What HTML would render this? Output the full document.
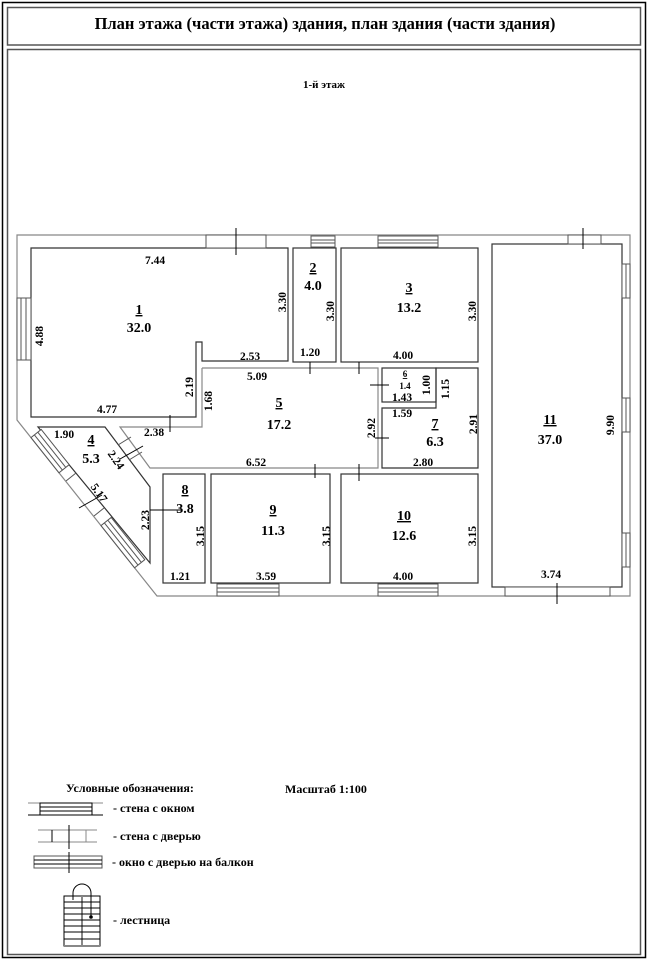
<!DOCTYPE html>
<html><head><meta charset="utf-8"><style>
html,body{margin:0;padding:0;background:#fff}
svg{display:block}
text{font-family:"Liberation Serif","DejaVu Serif",serif;fill:#000}
.d{font-size:11.5px;font-weight:bold}
.n{font-size:14px;font-weight:bold}
</style></head><body>
<svg width="648" height="960" viewBox="0 0 648 960" xmlns="http://www.w3.org/2000/svg">
<rect x="2.5" y="2.5" width="643" height="955" fill="none" stroke="#000" stroke-width="1.5"/>
<rect x="7.5" y="7.5" width="633" height="37.5" fill="none" stroke="#555" stroke-width="1.5"/>
<rect x="7.5" y="49.5" width="633" height="905" fill="none" stroke="#555" stroke-width="1.5"/>
<text x="325" y="29" text-anchor="middle" font-size="16.5" font-weight="bold">План этажа (части этажа) здания, план здания (части здания)</text>
<text x="324" y="88" text-anchor="middle" font-size="11" font-weight="bold">1-й этаж</text>

<g fill="none" stroke="#888" stroke-width="1.2">
<polygon points="17,235 630,235 630,596 157,596 17,420"/>
</g>
<g fill="none" stroke="#333" stroke-width="1.2">
<polygon points="31,248 288,248 288,361 202,361 202,342 196,342 196,417 31,417"/>
<rect x="293" y="248" width="43" height="114"/>
<rect x="341" y="248" width="137" height="114"/>
<polyline points="202,368 378,368 378,468 150,468 120,427 150,427 196,427 202,427 202,368" stroke="#888"/>
<polygon points="38,427 105,427 150,487 150,563"/>
<rect x="163" y="474" width="42" height="109"/>
<rect x="211" y="474" width="119" height="109"/>
<rect x="341" y="474" width="137" height="109"/>
<rect x="382" y="368" width="54" height="34"/>
<polygon points="382,408 436,408 436,368 478,368 478,468 382,468"/>
<rect x="492" y="244" width="130" height="343"/>
</g>
<g fill="#fff" stroke="#555" stroke-width="1">
<rect x="17" y="298" width="14" height="62"/><line x1="21" y1="298" x2="21" y2="360"/><line x1="26" y1="298" x2="26" y2="360"/>
<rect x="311" y="236" width="24" height="11"/><line x1="311" y1="240" x2="335" y2="240"/><line x1="311" y1="243" x2="335" y2="243"/>
<rect x="378" y="236" width="60" height="11"/><line x1="378" y1="240" x2="438" y2="240"/><line x1="378" y1="243" x2="438" y2="243"/>
<rect x="217" y="584" width="62" height="12"/><line x1="217" y1="588" x2="279" y2="588"/><line x1="217" y1="592" x2="279" y2="592"/>
<rect x="378" y="584" width="60" height="12"/><line x1="378" y1="588" x2="438" y2="588"/><line x1="378" y1="592" x2="438" y2="592"/>
<rect x="622" y="264" width="8" height="34"/><rect x="622" y="398" width="8" height="34"/><rect x="622" y="533" width="8" height="34"/>
<line x1="626" y1="264" x2="626" y2="298"/><line x1="626" y1="398" x2="626" y2="432"/><line x1="626" y1="533" x2="626" y2="567"/>
<rect x="206" y="235" width="60" height="13"/><rect x="568" y="235" width="33" height="9"/>
<rect x="505" y="587" width="105" height="9"/>
</g>
<!-- diagonal wall windows -->
<g stroke="#555" stroke-width="1" fill="#fff">
<polygon points="31,437.6 59,472.8 69.2,464.7 41.2,429.5"/>
<line x1="34.4" y1="434.9" x2="62.4" y2="470.1"/><line x1="37.8" y1="432.2" x2="65.8" y2="467.4"/>
<polygon points="101,525.6 134.6,567.8 144.8,559.7 111.2,517.5"/>
<line x1="104.4" y1="522.9" x2="138" y2="565.1"/><line x1="107.8" y1="520.2" x2="141.4" y2="562.4"/>
</g>
<g stroke="#555" stroke-width="1" fill="none">
<line x1="66" y1="481" x2="76" y2="473"/><line x1="94" y1="516" x2="104" y2="508"/>
<line x1="118" y1="445" x2="131" y2="437"/><line x1="129" y1="460" x2="142" y2="452"/>
</g>
<g stroke="#000" stroke-width="1">
<line x1="236" y1="228" x2="236" y2="255"/><line x1="310" y1="362" x2="310" y2="374"/>
<line x1="359" y1="362" x2="359" y2="374"/><line x1="170" y1="415" x2="170" y2="432"/>
<line x1="315" y1="464" x2="315" y2="478"/><line x1="359" y1="464" x2="359" y2="481"/>
<line x1="583" y1="228" x2="583" y2="249"/><line x1="557" y1="583" x2="557" y2="604"/>
<line x1="370" y1="385" x2="389" y2="385"/><line x1="375" y1="438" x2="389" y2="438"/>
<line x1="150" y1="510" x2="182" y2="510"/><line x1="120" y1="459" x2="143" y2="446"/>
<line x1="79" y1="508" x2="102" y2="495"/>
</g>
<g class="d">
<text x="155" y="264" text-anchor="middle" class="d">7.44</text>
<text x="240" y="360" class="d">2.53</text>
<text x="300" y="356" class="d">1.20</text>
<text x="247" y="380" class="d">5.09</text>
<text x="97" y="413" class="d">4.77</text>
<text x="144" y="436" class="d">2.38</text>
<text x="54" y="438" class="d">1.90</text>
<text x="246" y="466" class="d">6.52</text>
<text x="393" y="359" class="d">4.00</text>
<text x="392" y="401" class="d" font-size="10">1.43</text>
<text x="392" y="417" class="d" font-size="10">1.59</text>
<text x="413" y="466" class="d">2.80</text>
<text x="170" y="580" class="d">1.21</text>
<text x="256" y="580" class="d">3.59</text>
<text x="393" y="580" class="d">4.00</text>
<text x="541" y="578" class="d">3.74</text>
</g>
<g class="d">
<text transform="translate(43,336) rotate(-90)" text-anchor="middle" class="d">4.88</text>
<text transform="translate(286,302) rotate(-90)" text-anchor="middle" class="d">3.30</text>
<text transform="translate(334,311) rotate(-90)" text-anchor="middle" class="d">3.30</text>
<text transform="translate(476,311) rotate(-90)" text-anchor="middle" class="d">3.30</text>
<text transform="translate(193,387) rotate(-90)" text-anchor="middle" class="d">2.19</text>
<text transform="translate(212,401) rotate(-90)" text-anchor="middle" class="d">1.68</text>
<text transform="translate(375,428) rotate(-90)" text-anchor="middle" class="d">2.92</text>
<text transform="translate(430,385) rotate(-90)" text-anchor="middle" class="d" font-size="10">1.00</text>
<text transform="translate(449,389) rotate(-90)" text-anchor="middle" class="d">1.15</text>
<text transform="translate(477,424) rotate(-90)" text-anchor="middle" class="d">2.91</text>
<text transform="translate(614,425) rotate(-90)" text-anchor="middle" class="d">9.90</text>
<text transform="translate(149,520) rotate(-90)" text-anchor="middle" class="d">2.23</text>
<text transform="translate(204,536) rotate(-90)" text-anchor="middle" class="d">3.15</text>
<text transform="translate(330,536) rotate(-90)" text-anchor="middle" class="d">3.15</text>
<text transform="translate(476,536) rotate(-90)" text-anchor="middle" class="d">3.15</text>
<text transform="translate(113,462) rotate(55)" text-anchor="middle" class="d">2.24</text>
<text transform="translate(96,495) rotate(55)" text-anchor="middle" class="d">5.17</text>
</g>
<g class="n">
<text x="139" y="314" text-anchor="middle" class="n" text-decoration="underline">1</text><text x="139" y="332" text-anchor="middle" class="n">32.0</text>
<text x="313" y="272" text-anchor="middle" class="n" text-decoration="underline">2</text><text x="313" y="290" text-anchor="middle" class="n">4.0</text>
<text x="409" y="292" text-anchor="middle" class="n" text-decoration="underline">3</text><text x="409" y="312" text-anchor="middle" class="n">13.2</text>
<text x="91" y="444" text-anchor="middle" class="n" text-decoration="underline">4</text><text x="91" y="463" text-anchor="middle" class="n">5.3</text>
<text x="279" y="407" text-anchor="middle" class="n" text-decoration="underline">5</text><text x="279" y="429" text-anchor="middle" class="n">17.2</text>
<text x="405" y="377" text-anchor="middle" font-size="9" font-weight="bold" text-decoration="underline">6</text><text x="405" y="389" text-anchor="middle" font-size="9" font-weight="bold">1.4</text>
<text x="435" y="428" text-anchor="middle" class="n" text-decoration="underline">7</text><text x="435" y="446" text-anchor="middle" class="n">6.3</text>
<text x="185" y="494" text-anchor="middle" class="n" text-decoration="underline">8</text><text x="185" y="513" text-anchor="middle" class="n">3.8</text>
<text x="273" y="514" text-anchor="middle" class="n" text-decoration="underline">9</text><text x="273" y="535" text-anchor="middle" class="n">11.3</text>
<text x="404" y="520" text-anchor="middle" class="n" text-decoration="underline">10</text><text x="404" y="540" text-anchor="middle" class="n">12.6</text>
<text x="550" y="424" text-anchor="middle" class="n" text-decoration="underline">11</text><text x="550" y="444" text-anchor="middle" class="n">37.0</text>
</g>

<text x="66" y="792" font-size="12" font-weight="bold">Условные обозначения:</text>
<text x="285" y="793" font-size="12" font-weight="bold">Масштаб 1:100</text>
<g stroke="#000" stroke-width="1" fill="none">
<line x1="28" y1="803" x2="103" y2="803" stroke="#888"/><line x1="28" y1="815" x2="103" y2="815"/>
<rect x="40" y="803" width="52" height="12"/><line x1="40" y1="807" x2="92" y2="807"/><line x1="40" y1="811" x2="92" y2="811"/>
<line x1="38" y1="830" x2="97" y2="830" stroke="#888"/><line x1="38" y1="842" x2="97" y2="842" stroke="#888"/>
<line x1="52" y1="830" x2="52" y2="842"/><line x1="86" y1="830" x2="86" y2="842" stroke="#888"/><line x1="69" y1="825" x2="69" y2="849"/>
<rect x="34" y="856" width="68" height="12" stroke="#555"/><line x1="34" y1="860" x2="102" y2="860"/><line x1="34" y1="864" x2="102" y2="864"/>
<line x1="69" y1="852" x2="69" y2="873"/>
<rect x="64" y="896" width="36" height="50"/>
<line x1="82" y1="896" x2="82" y2="946" stroke="#888" stroke-width="2"/>
<line x1="64" y1="902" x2="100" y2="902"/><line x1="64" y1="908" x2="100" y2="908"/><line x1="64" y1="914" x2="100" y2="914"/><line x1="64" y1="920" x2="100" y2="920"/><line x1="64" y1="926" x2="100" y2="926"/><line x1="64" y1="932" x2="100" y2="932"/><line x1="64" y1="939" x2="100" y2="939"/>
<line x1="64" y1="946" x2="100" y2="946" stroke="#888" stroke-width="2"/>
<path d="M91,917 L91,893 A9,9 0 0 0 73,893 L73,900"/>
</g>
<circle cx="91" cy="917" r="1.8" fill="#000"/>
<text x="113" y="812" font-size="12" font-weight="bold">- стена с окном</text>
<text x="113" y="840" font-size="12" font-weight="bold">- стена с дверью</text>
<text x="112" y="866" font-size="12" font-weight="bold">- окно с дверью на балкон</text>
<text x="113" y="924" font-size="12" font-weight="bold">- лестница</text>
</svg>
</body></html>
